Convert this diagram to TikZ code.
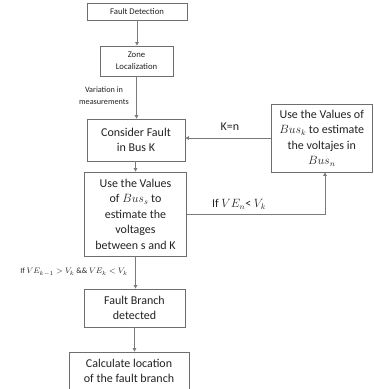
\documentclass[tikz,border=0pt]{standalone}
\usepackage{fontspec}
\setmainfont{Carlito}
\usetikzlibrary{arrows.meta}
\definecolor{linegray}{HTML}{7A7A7A}
\definecolor{boxgray}{HTML}{6E6E6E}
\definecolor{txt}{HTML}{222222}
\begin{document}
\begin{tikzpicture}[x=1pt,y=-1pt,
  box/.style={draw=boxgray, line width=0.8pt, align=center, inner sep=0pt, text=txt},
  big/.style={font=\fontsize{12}{15.5}\selectfont},
  small/.style={font=\fontsize{8.7}{12}\selectfont},
  lbl/.style={align=center, inner sep=0pt, text=txt},
  arr/.style={draw=linegray, line width=0.8pt, -{Triangle[length=3.5pt,width=3.5pt]}}]
\useasboundingbox (0,0) rectangle (373,389);
\node[box,small,minimum width=100pt,minimum height=17pt] (FD) at (137,11.5) {Fault Detection};
\node[box,small,minimum width=73pt,minimum height=30pt] (ZL) at (136.5,61) {Zone\\Localization};
\node[box,big,minimum width=98pt,minimum height=42pt] (CF) at (136,140) {Consider Fault\\in Bus K};
\node[box,big,minimum width=102pt,minimum height=84pt] (UV) at (135.5,214) {Use the Values\\of $Bus_s$ to\\estimate the\\voltages\\between s and K};
\node[box,big,minimum width=101.5pt,minimum height=68pt] (RB) at (321.75,138) {Use the Values of\\$Bus_k$ to estimate\\the voltajes in\\$Bus_n$};
\node[box,big,minimum width=101pt,minimum height=38pt] (FB) at (134.5,308) {Fault Branch\\detected};
\node[box,big,minimum width=120pt,minimum height=38pt] (CL) at (129,371) {Calculate location\\of the fault branch};
\coordinate (c1) at (325,214);
\draw[arr] (FD.south) -- (FD.south |- ZL.north);
\draw[arr] (ZL.south) -- (ZL.south |- CF.north);
\draw[arr] (CF.south -| UV.north) -- (UV.north);
\draw[arr] (UV.south) -- (UV.south |- FB.north);
\draw[arr] (FB.south) -- (FB.south |- CL.north);
\draw[arr] (RB.west) -- (RB.west -| CF.east);
\draw[arr] (UV.east) -| (c1 |- RB.south);
\node[lbl,font=\fontsize{8.2}{12}\selectfont] (var) at (104,96) {Variation in\\measurements};
\node[lbl,big] (kn) at (230,127) {K=n};
\node[lbl,big] (ifn) at (239,204) {If $VE_n$< $V_k$};
\node[lbl,font=\fontsize{8}{10}\selectfont] (ifk) at (74,272) {If $VE_{k-1}>V_k$ \&\& $VE_k<V_k$};
\end{tikzpicture}
\end{document}
